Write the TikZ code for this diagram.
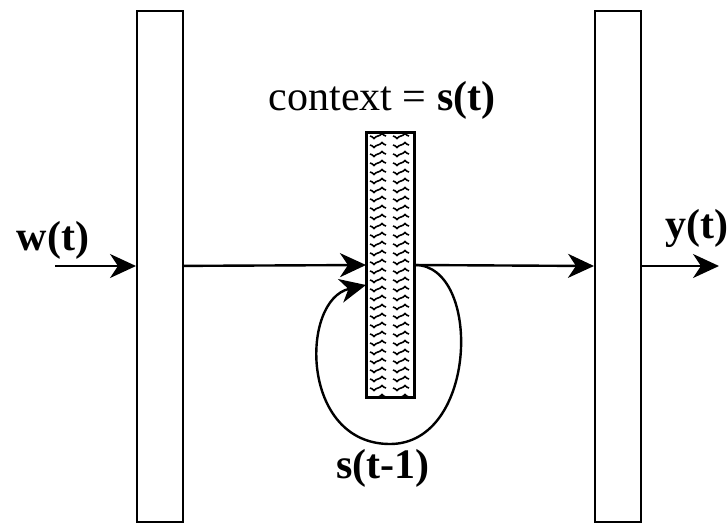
\documentclass[tikz,border=0pt]{standalone}
\usepackage{fontspec}
\setmainfont{Liberation Serif}
\usetikzlibrary{arrows.meta,calc}

\begin{document}
\begin{tikzpicture}[x=1pt, y=-1pt, every node/.style={font=\fontsize{42}{48}\selectfont}, >={Stealth[length=26pt, width=24pt, inset=8pt]},
	bar/.style={draw, line width=2pt, fill=white, minimum width=46pt, inner sep=0pt},
	link/.style={->, line width=2.4pt}, lab/.style={inner sep=1pt}]
	\useasboundingbox (0,0) rectangle (728,523);
	\node[bar, minimum height=511pt] (inbar) at (160,266) {};
	\node[bar, minimum height=511pt] (outbar) at (618,266) {};
	\node[bar, minimum width=47pt, minimum height=264pt] (ctxbar) at (390.5,265) {};
	% wave texture of the context layer
	\begin{scope}
		\clip (367,133) rectangle (414,396);
		\foreach \r in {0,...,29} {
			\foreach \c in {370,393} {
				\draw[line width=1.6pt] (\c,{136+9*\r}) cos ({\c+4},{138.5+9*\r}) sin ({\c+8},{136+9*\r}) cos ({\c+12},{133.5+9*\r}) sin ({\c+16},{136+9*\r});
			}
		}
	\end{scope}
	\draw[line width=2pt] (ctxbar.north west) rectangle (ctxbar.south east);
	\node[lab] (ctxlab) at (382,100) {context = \textbf{s(t)}};
	\node[lab] (wlab) at (53,240) {\textbf{w(t)}};
	\node[lab] (ylab) at (697,228) {\textbf{y(t)}};
	\node[lab] (slab) at (383,468) {\textbf{s(t-1)}};
	\coordinate (win) at (55,266);
	\coordinate (yout) at (719,266);
	\draw[link] (win) -- (inbar.west);
	\draw[link] (inbar) -- (ctxbar.west);
	\draw[link] (ctxbar.east) -- (outbar.west);
	\draw[link] (outbar.east) -- (yout);
	% recurrent loop
	\draw[link] (ctxbar.east) .. controls (482,265) and (478,444) .. (390,444) .. controls (300,444) and (300,300) .. ($(ctxbar.west)+(0,20)$);
\end{tikzpicture}
\end{document}
